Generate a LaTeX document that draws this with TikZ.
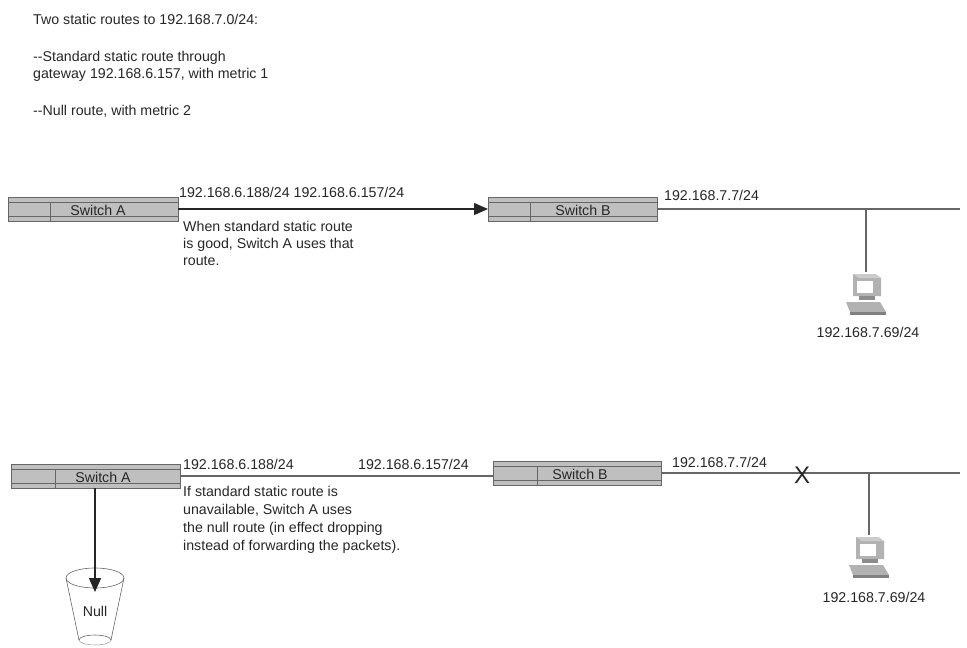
\documentclass[tikz,border=0pt]{standalone}
\usepackage{fontspec}
\setmainfont{Liberation Sans}
\usetikzlibrary{arrows.meta}
\begin{document}
\begin{tikzpicture}[x=1pt,y=-1pt,
  txt/.style={anchor=west,inner sep=0,font=\fontsize{14.2}{17}\selectfont,align=left,text=black!85},
  wire/.style={draw=black!60,line width=1.3pt},
  arr/.style={draw=black!85,line width=1.4pt,-{Triangle[length=14pt,width=12pt]}}]
\useasboundingbox (0,0) rectangle (967,648);
\newcommand{\sw}[5]{% name, x1,y1,x2,divider
  \fill[black!25] (#2,#3) rectangle (#4,#3+24);
  \draw[black!60,line width=0.8pt] (#2,#3) rectangle (#4,#3+24) (#2,#3+5)--(#4,#3+5) (#2,#3+19)--(#4,#3+19) (#5,#3+5)--(#5,#3+24);
  \coordinate (#1) at ({(#2+#4)/2},#3+12);
}
\node[txt,anchor=north west] (title) at (33,14) {Two static routes to 192.168.7.0/24:\\[20pt]{-}{-}Standard static route through\\gateway 192.168.6.157, with metric 1\\[20pt]{-}{-}Null route, with metric 2};
% top
\sw{swA1}{8}{197}{178}{50}
\sw{swB1}{488}{197}{657}{530}
\node[txt,anchor=center] (lA1) at (98,210) {Switch A};
\node[txt,anchor=center] (lB1) at (583,210) {Switch B};
\coordinate (a1r) at (178,209); \coordinate (b1l) at (488,209);
\coordinate (b1r) at (657,209); \coordinate (e1) at (960,209);
\draw[arr] (a1r) -- (b1l);
\draw[wire] (b1r) -- (e1);
\node[txt] (ip1) at (179,192) {192.168.6.188/24 192.168.6.157/24};
\node[txt] (ip2) at (664,195) {192.168.7.7/24};
\node[txt,anchor=north west] (t1) at (183,221) {When standard static route\\is good, Switch A uses that\\route.};
\coordinate (j1) at (866,209); \coordinate (pc1) at (866,272);
\draw[wire] (j1) -- (pc1);
\node[txt,anchor=center] (h1) at (868,332) {192.168.7.69/24};
% bottom
\sw{swA2}{11}{464}{180}{55}
\sw{swB2}{493}{461}{661}{537}
\node[txt,anchor=center] (lA2) at (103,477) {Switch A};
\node[txt,anchor=center] (lB2) at (580,474) {Switch B};
\coordinate (a2r) at (180,476); \coordinate (b2l) at (493,476);
\coordinate (b2r) at (661,473); \coordinate (e2) at (960,473);
\draw[wire] (a2r) -- (b2l);
\draw[wire] (b2r) -- (e2);
\node[txt] (ip3) at (183,464) {192.168.6.188/24};
\node[txt] (ip4) at (358,464) {192.168.6.157/24};
\node[txt] (ip5) at (672,462) {192.168.7.7/24};
\node[font=\fontsize{24}{24}\selectfont,inner sep=0,text=black!85] (x) at (802,475) {X};
\node[txt,anchor=north west,font=\fontsize{14.2}{18}\selectfont] (t2) at (183,486) {If standard static route is\\unavailable, Switch A uses\\the null route (in effect dropping\\instead of forwarding the packets).};
\coordinate (j2) at (869,473); \coordinate (pc2) at (869,535);
\draw[wire] (j2) -- (pc2);
\node[txt,anchor=center] (h2) at (874,597) {192.168.7.69/24};
% null bucket
\draw[black!60,line width=0.6pt] (95,578) ellipse (29 and 10);
\draw[black!60,line width=0.6pt] (66,578) -- (79,640) (124,578) -- (111,640);
\draw[black!60,line width=0.6pt] (79,640) arc (180:360:16 and 5);
\draw[black!40,line width=0.5pt] (79,640) arc (180:0:16 and 5);
\node[txt,anchor=center] (null) at (95,611) {Null};
\coordinate (a2b) at (95,488); \coordinate (nt) at (95,592);
\draw[arr] (a2b) -- (nt);
% computers
\foreach \cx/\cy in {866/272,869/535}{
  \begin{scope}[shift={(\cx,\cy)}]
   \fill[black!30] (-13,2) -- (9,2) -- (15,6) -- (15,24) -- (-13,24) -- cycle;
   \fill[black!20] (-13,2) -- (9,2) -- (15,6) -- (-7,6) -- cycle;
   \fill[white] (-9,9) rectangle (7,21);
   \fill[black!45] (-7,24) -- (9,24) -- (9,28) -- (-7,28) -- cycle;
   \fill[black!30] (-20,30) -- (14,30) -- (20,40) -- (-16,40) -- cycle;
   \fill[black!50] (-16,40) -- (20,40) -- (20,43) -- (-16,43) -- cycle;
  \end{scope}}
\end{tikzpicture}
\end{document}
